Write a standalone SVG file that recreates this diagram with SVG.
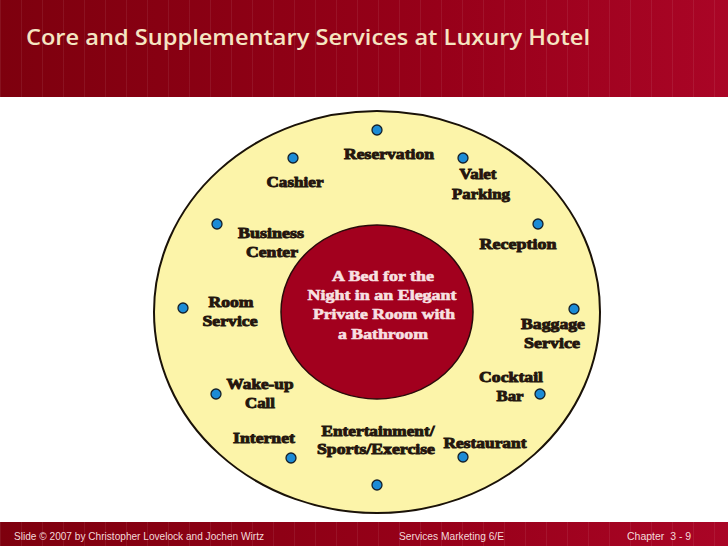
<svg xmlns="http://www.w3.org/2000/svg" width="728" height="546" viewBox="0 0 728 546">
<defs>
<linearGradient id="hdr" x1="0" y1="0" x2="1" y2="0">
<stop offset="0" stop-color="#7e000e"/>
<stop offset="0.6" stop-color="#970019"/>
<stop offset="1" stop-color="#aa0526"/>
</linearGradient>
<pattern id="stripes" width="21" height="40" patternUnits="userSpaceOnUse">
<rect x="0" y="0" width="1" height="40" fill="#ffffff" fill-opacity="0.07"/>
</pattern>
</defs>
<style>
.lbl{font-family:"Liberation Serif","Times New Roman",serif;font-weight:bold;font-size:15px;fill:#24160e;stroke:#24160e;stroke-width:0.9;text-anchor:middle}
.core{font-family:"Liberation Serif","Times New Roman",serif;font-weight:bold;font-size:15px;fill:#f8e0e2;stroke:#f8e0e2;stroke-width:0.6;text-anchor:middle}
.dot{fill:#1b8bd6;stroke:#15202a;stroke-width:1.3}
.foot{font-family:"Liberation Sans",Arial,sans-serif;font-size:10.5px;fill:#f3dada;white-space:pre}
</style>
<rect x="0" y="0" width="728" height="546" fill="#ffffff"/>
<g id="header">
<rect x="0" y="0" width="728" height="97" fill="url(#hdr)"/>
<rect x="0" y="0" width="728" height="97" fill="url(#stripes)"/>
<text x="26" y="45" font-family="'Open Sans','DejaVu Sans',sans-serif" font-weight="600" font-size="22" fill="#f6e5c2" textLength="564" lengthAdjust="spacingAndGlyphs">Core and Supplementary Services at Luxury Hotel</text>
</g>
<g id="outer">
<ellipse cx="377" cy="312" rx="223" ry="201" fill="#fcf4a9" stroke="#1a1208" stroke-width="2"/>
</g>
<g id="core">
<ellipse cx="377" cy="312" rx="96" ry="87" fill="#a2001e" stroke="#2a0a0a" stroke-width="1.5"/>
<text class="core" x="383" y="281" textLength="102" lengthAdjust="spacingAndGlyphs">A Bed for the</text>
<text class="core" x="382" y="300" textLength="149" lengthAdjust="spacingAndGlyphs">Night in an Elegant</text>
<text class="core" x="384" y="319" textLength="142" lengthAdjust="spacingAndGlyphs">Private Room with</text>
<text class="core" x="383" y="339" textLength="90" lengthAdjust="spacingAndGlyphs">a Bathroom</text>
</g>
<g id="connectors"/>
<g id="reservation">
<circle class="dot" cx="377" cy="130" r="5"/>
<text class="lbl" x="389" y="159" textLength="90" lengthAdjust="spacingAndGlyphs">Reservation</text>
</g>
<g id="cashier">
<circle class="dot" cx="293" cy="158" r="5"/>
<text class="lbl" x="295" y="187" textLength="57" lengthAdjust="spacingAndGlyphs">Cashier</text>
</g>
<g id="valet">
<circle class="dot" cx="463" cy="158" r="5"/>
<text class="lbl" x="478" y="179" textLength="37" lengthAdjust="spacingAndGlyphs">Valet</text>
<text class="lbl" x="481" y="199" textLength="58" lengthAdjust="spacingAndGlyphs">Parking</text>
</g>
<g id="business">
<circle class="dot" cx="217" cy="224" r="5"/>
<text class="lbl" x="271" y="238" textLength="66" lengthAdjust="spacingAndGlyphs">Business</text>
<text class="lbl" x="272" y="257" textLength="52" lengthAdjust="spacingAndGlyphs">Center</text>
</g>
<g id="reception">
<circle class="dot" cx="538" cy="224" r="5"/>
<text class="lbl" x="518" y="249" textLength="77" lengthAdjust="spacingAndGlyphs">Reception</text>
</g>
<g id="room-service">
<circle class="dot" cx="183" cy="308" r="5"/>
<text class="lbl" x="231" y="307" textLength="45" lengthAdjust="spacingAndGlyphs">Room</text>
<text class="lbl" x="230" y="326" textLength="55" lengthAdjust="spacingAndGlyphs">Service</text>
</g>
<g id="baggage">
<circle class="dot" cx="574" cy="309" r="5"/>
<text class="lbl" x="553" y="329" textLength="64" lengthAdjust="spacingAndGlyphs">Baggage</text>
<text class="lbl" x="552" y="348" textLength="56" lengthAdjust="spacingAndGlyphs">Service</text>
</g>
<g id="cocktail">
<circle class="dot" cx="540" cy="394" r="5"/>
<text class="lbl" x="511" y="382" textLength="64" lengthAdjust="spacingAndGlyphs">Cocktail</text>
<text class="lbl" x="510" y="401" textLength="27" lengthAdjust="spacingAndGlyphs">Bar</text>
</g>
<g id="wakeup">
<circle class="dot" cx="216" cy="394" r="5"/>
<text class="lbl" x="260" y="389" textLength="67" lengthAdjust="spacingAndGlyphs">Wake-up</text>
<text class="lbl" x="260" y="408" textLength="30" lengthAdjust="spacingAndGlyphs">Call</text>
</g>
<g id="internet">
<circle class="dot" cx="291" cy="458" r="5"/>
<text class="lbl" x="264" y="443" textLength="62" lengthAdjust="spacingAndGlyphs">Internet</text>
</g>
<g id="entertainment">
<circle class="dot" cx="377" cy="485" r="5"/>
<text class="lbl" x="378" y="436" textLength="113" lengthAdjust="spacingAndGlyphs">Entertainment/</text>
<text class="lbl" x="376" y="454" textLength="118" lengthAdjust="spacingAndGlyphs">Sports/Exercise</text>
</g>
<g id="restaurant">
<circle class="dot" cx="463" cy="457" r="5"/>
<text class="lbl" x="485" y="448" textLength="83" lengthAdjust="spacingAndGlyphs">Restaurant</text>
</g>
<g id="footer">
<rect x="0" y="522" width="728" height="24" fill="url(#hdr)"/>
<rect x="0" y="522" width="728" height="24" fill="url(#stripes)"/>
<text class="foot" x="14" y="540" textLength="250" lengthAdjust="spacingAndGlyphs">Slide © 2007 by Christopher Lovelock and Jochen Wirtz</text>
<text class="foot" x="399" y="540" textLength="105" lengthAdjust="spacingAndGlyphs">Services Marketing 6/E</text>
<text class="foot" x="627" y="540">Chapter  3 - 9</text>
</g>
</svg>
